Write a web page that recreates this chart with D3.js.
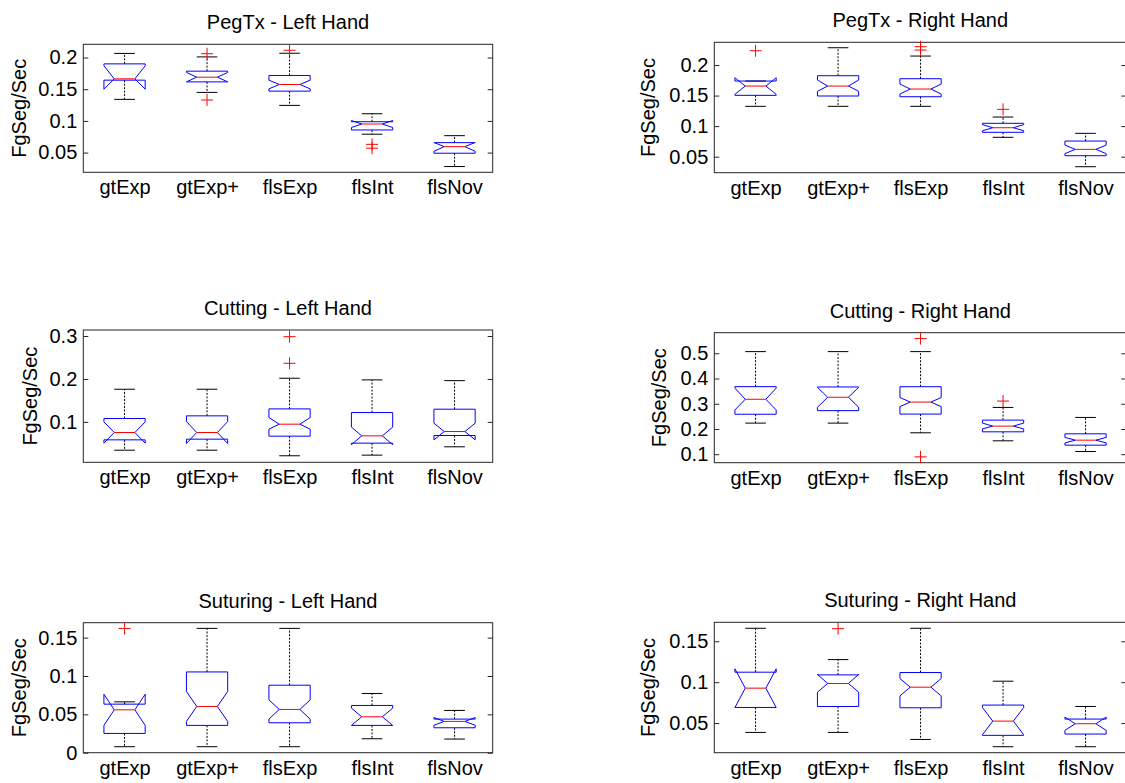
<!DOCTYPE html>
<html>
<head>
<meta charset="utf-8">
<script src="https://cdn.jsdelivr.net/npm/d3@7"></script>
<style>
  body { margin: 0; background: #fff; }
  svg { display: block; }
  text { font-family: "Liberation Sans", Arial, Helvetica, sans-serif; fill: #000; }
</style>
</head>
<body>
<svg id="chart" width="1125" height="783"></svg>
<script>
// Groups along the x axis
const categories = ["gtExp", "gtExp+", "flsExp", "flsInt", "flsNov"];

// Box statistics per group:
// [lower whisker, Q1, notch low, median, notch high, Q3, upper whisker]
const pegTxLeft = [
  [0.134, 0.1643, 0.150, 0.1664, 0.187, 0.190, 0.2065],
  [0.145, 0.1616, 0.1616, 0.169, 0.1765, 0.1785, 0.201],
  [0.1245, 0.147, 0.1506, 0.1575, 0.1643, 0.1717, 0.2068],
  [0.079, 0.0857, 0.0896, 0.0951, 0.1006, 0.0987, 0.1113],
  [0.028, 0.049, 0.052, 0.0594, 0.066, 0.0657, 0.0767]
];
const pegTxLeftOutliers = [[], [0.206, 0.133], [0.2115], [0.063, 0.057], []];
const pegTxLeftTicks = [0.05, 0.1, 0.15, 0.2];

const pegTxRight = [
  [0.1324, 0.1504, 0.152, 0.1656, 0.1792, 0.1738, 0.1738],
  [0.1324, 0.1493, 0.157, 0.1656, 0.1755, 0.1825, 0.2283],
  [0.1324, 0.1481, 0.1525, 0.1607, 0.1689, 0.1776, 0.2147],
  [0.0817, 0.0899, 0.0924, 0.0974, 0.1024, 0.1046, 0.1149],
  [0.0336, 0.0516, 0.055, 0.062, 0.069, 0.0756, 0.0882]
];
const pegTxRightOutliers = [[0.2234], [], [0.230, 0.2245], [0.1275], []];
const pegTxRightTicks = [0.05, 0.1, 0.15, 0.2];

const cuttingLeft = [
  [0.034, 0.0581, 0.0504, 0.0752, 0.100, 0.1078, 0.176],
  [0.034, 0.0597, 0.0496, 0.0752, 0.1008, 0.114, 0.176],
  [0.021, 0.0667, 0.083, 0.0946, 0.110, 0.1302, 0.2016],
  [0.0225, 0.0504, 0.047, 0.0674, 0.0878, 0.1217, 0.1978],
  [0.0419, 0.0682, 0.0581, 0.0775, 0.0969, 0.1295, 0.196]
];
const cuttingLeftOutliers = [[], [], [0.2984, 0.2364], [], []];
const cuttingLeftTicks = [0.1, 0.2, 0.3];

const cuttingRight = [
  [0.2232, 0.2584, 0.2755, 0.3178, 0.362, 0.3677, 0.5066],
  [0.2232, 0.2727, 0.2861, 0.3257, 0.365, 0.3665, 0.5066],
  [0.1848, 0.259, 0.2886, 0.3066, 0.3246, 0.3675, 0.5066],
  [0.153, 0.1887, 0.2003, 0.2113, 0.2233, 0.2351, 0.2854],
  [0.1106, 0.1358, 0.1446, 0.1556, 0.1666, 0.1808, 0.2457]
];
const cuttingRightOutliers = [[], [], [0.5583, 0.0894], [0.3106], []];
const cuttingRightTicks = [0.1, 0.2, 0.3, 0.4, 0.5];

const suturingLeft = [
  [0.0078, 0.0251, 0.0356, 0.0559, 0.0762, 0.0633, 0.0663],
  [0.0078, 0.0356, 0.0408, 0.0603, 0.0798, 0.1053, 0.1621],
  [0.0078, 0.039, 0.0438, 0.0564, 0.0689, 0.088, 0.1621],
  [0.0182, 0.0356, 0.0355, 0.0468, 0.0581, 0.0616, 0.0772],
  [0.0178, 0.0325, 0.0358, 0.0408, 0.0458, 0.0438, 0.0551]
];
const suturingLeftOutliers = [[0.162], [], [], [], []];
const suturingLeftTicks = [0, 0.05, 0.1, 0.15];

const suturingRight = [
  [0.0386, 0.0691, 0.069, 0.0927, 0.1163, 0.1122, 0.1659],
  [0.0386, 0.0703, 0.0878, 0.0984, 0.1095, 0.1089, 0.1276],
  [0.030, 0.0687, 0.0833, 0.0939, 0.1045, 0.1118, 0.1659],
  [0.0211, 0.035, 0.0357, 0.0524, 0.0691, 0.072, 0.1012],
  [0.0211, 0.0366, 0.0411, 0.0492, 0.0573, 0.0549, 0.0703]
];
const suturingRightOutliers = [[], [0.1654], [], [], []];
const suturingRightTicks = [0.05, 0.1, 0.15];

const yLabel = "FgSeg/Sec";

// Panel layout: frame position and y limits
const panels = [
  { title: "PegTx - Left Hand",     stats: pegTxLeft,     outliers: pegTxLeftOutliers,     ticks: pegTxLeftTicks,     ylim: [0.0189, 0.2209], left: 83.3,  top: 44.3,  bottom: 172.3, frameW: 409.4, labelGap: 12.5 },
  { title: "PegTx - Right Hand",    stats: pegTxRight,    outliers: pegTxRightOutliers,    ticks: pegTxRightTicks,    ylim: [0.0238, 0.2372], left: 714.3, top: 42.3,  bottom: 172.7, frameW: 412,   labelGap: 14.5 },
  { title: "Cutting - Left Hand",   stats: cuttingLeft,   outliers: cuttingLeftOutliers,   ticks: cuttingLeftTicks,   ylim: [0.0058, 0.314],  left: 83.3,  top: 330,   bottom: 462.3, frameW: 409.4, labelGap: 12.5 },
  { title: "Cutting - Right Hand",  stats: cuttingRight,  outliers: cuttingRightOutliers,  ticks: cuttingRightTicks,  ylim: [0.0663, 0.5816], left: 714.3, top: 332.7, bottom: 462.7, frameW: 412,   labelGap: 14.5 },
  { title: "Suturing - Left Hand",  stats: suturingLeft,  outliers: suturingLeftOutliers,  ticks: suturingLeftTicks,  ylim: [0, 0.1695],      left: 83.3,  top: 622.7, bottom: 752.7, frameW: 409.4, labelGap: 12.5 },
  { title: "Suturing - Right Hand", stats: suturingRight, outliers: suturingRightOutliers, ticks: suturingRightTicks, ylim: [0.0138, 0.1732], left: 714.3, top: 622.3, bottom: 752.7, frameW: 412,   labelGap: 14.5 }
];

const FONT = 20;
const svg = d3.select("#chart");
const fmt = v => String(+v.toFixed(4));

panels.forEach(p => {
  const g = svg.append("g");
  const x = d3.scaleLinear().domain([0.5, 5.5]).range([p.left, p.left + 412.5]);
  const y = d3.scaleLinear().domain(p.ylim).range([p.bottom, p.top]);
  const unit = x(1) - x(0);
  const w = unit * 0.25;       // half box width
  const right = p.left + p.frameW;

  // Axes frame
  g.append("rect")
    .attr("x", p.left).attr("y", p.top)
    .attr("width", p.frameW).attr("height", p.bottom - p.top)
    .attr("fill", "none").attr("stroke", "#262626").attr("stroke-width", 1);

  // Left y axis (ticks pointing inward)
  const yAxis = g.append("g")
    .attr("transform", `translate(${p.left},0)`)
    .call(d3.axisLeft(y).tickValues(p.ticks).tickFormat(fmt).tickSize(-5).tickPadding(6));
  yAxis.select(".domain").remove();
  yAxis.selectAll("line").attr("stroke", "#262626");
  yAxis.selectAll("text").attr("font-size", FONT).attr("fill", "#000")
    .style("font-family", '"Liberation Sans", Arial, sans-serif');

  // Mirrored ticks on the right edge
  const yAxisR = g.append("g")
    .attr("transform", `translate(${right},0)`)
    .call(d3.axisRight(y).tickValues(p.ticks).tickFormat("").tickSize(-5));
  yAxisR.select(".domain").remove();
  yAxisR.selectAll("line").attr("stroke", "#262626");

  // Category labels
  const xAxis = g.append("g")
    .attr("transform", `translate(0,${p.bottom})`)
    .call(d3.axisBottom(x).tickValues([1, 2, 3, 4, 5]).tickFormat(i => categories[i - 1]).tickSize(0).tickPadding(8));
  xAxis.select(".domain").remove();
  xAxis.selectAll("text").attr("font-size", FONT).attr("fill", "#000")
    .style("font-family", '"Liberation Sans", Arial, sans-serif');

  // Title
  g.append("text")
    .attr("x", p.left + p.frameW / 2).attr("y", p.top - 15)
    .attr("text-anchor", "middle").attr("font-size", FONT)
    .text(p.title);

  // Y label, placed past the widest tick label
  let maxW = 0;
  yAxis.selectAll("text").each(function () { maxW = Math.max(maxW, this.getComputedTextLength()); });
  const bx = p.left - 6 - maxW - p.labelGap;
  const cy = (p.top + p.bottom) / 2;
  g.append("text")
    .attr("transform", `translate(${bx},${cy}) rotate(-90)`)
    .attr("text-anchor", "middle").attr("font-size", FONT)
    .text(yLabel);

  // Boxes
  p.stats.forEach((s, i) => {
    const [wlo, q1, nlo, med, nhi, q3, whi] = s;
    const cx = x(i + 1);
    const bg = g.append("g");

    // Whiskers (dashed) and caps
    bg.append("line").attr("x1", cx).attr("x2", cx).attr("y1", y(q3)).attr("y2", y(whi))
      .attr("stroke", "#000").attr("stroke-dasharray", "2,1.5");
    bg.append("line").attr("x1", cx).attr("x2", cx).attr("y1", y(q1)).attr("y2", y(wlo))
      .attr("stroke", "#000").attr("stroke-dasharray", "2,1.5");
    [whi, wlo].forEach(v => {
      bg.append("line").attr("x1", cx - w / 2).attr("x2", cx + w / 2).attr("y1", y(v)).attr("y2", y(v))
        .attr("stroke", "#000");
    });

    // Notched box outline
    const pts = [
      [cx - w, y(q1)], [cx - w, y(nlo)], [cx - w / 2, y(med)], [cx - w, y(nhi)], [cx - w, y(q3)],
      [cx + w, y(q3)], [cx + w, y(nhi)], [cx + w / 2, y(med)], [cx + w, y(nlo)], [cx + w, y(q1)]
    ];
    bg.append("path")
      .attr("d", d3.line()(pts) + "Z")
      .attr("fill", "none").attr("stroke", "#0000ff").attr("stroke-width", 1);

    // Median
    bg.append("line").attr("x1", cx - w / 2).attr("x2", cx + w / 2).attr("y1", y(med)).attr("y2", y(med))
      .attr("stroke", "#ff0000").attr("stroke-width", 1);

    // Outliers as red plus markers
    p.outliers[i].forEach(v => {
      const yy = y(v);
      bg.append("path")
        .attr("d", `M${cx - 6},${yy}H${cx + 6}M${cx},${yy - 6}V${yy + 6}`)
        .attr("stroke", "#ff0000").attr("fill", "none");
    });
  });
});
</script>
</body>
</html>
